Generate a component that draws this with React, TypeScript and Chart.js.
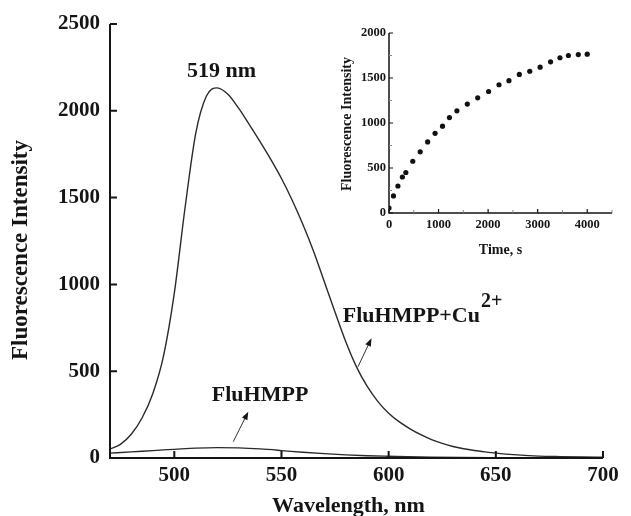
import React, { useEffect, useRef } from "react";
import { Chart, registerables } from "chart.js";

Chart.register(...registerables);

// ---------- data ----------
const wavelengthsCu = [470, 475, 480, 485, 490, 495, 500, 505, 510, 515, 520, 525, 530, 535, 540, 545, 550, 555, 560, 565, 570, 575, 580, 585, 590, 595, 600, 605, 610, 615, 620, 625, 630, 635, 640, 645, 650, 660, 670, 680, 690, 700];
const intensityCu = [52, 80, 138, 232, 372, 590, 950, 1440, 1870, 2085, 2132, 2095, 2015, 1920, 1822, 1720, 1610, 1485, 1345, 1190, 1015, 840, 670, 525, 412, 325, 258, 208, 168, 134, 106, 84, 66, 53, 43, 35, 28, 18, 11, 8, 6, 5];

const wavelengthsFree = [470, 480, 490, 500, 510, 520, 530, 540, 550, 560, 570, 580, 590, 600, 620, 650, 700];
const intensityFree = [28, 35, 43, 50, 57, 60, 58, 52, 43, 33, 25, 18, 13, 10, 5, 2, 0];

const mainXTicks = [500, 550, 600, 650, 700];
const mainYTicks = [0, 500, 1000, 1500, 2000, 2500];

const timeS = [0, 90, 180, 270, 340, 480, 630, 780, 930, 1080, 1220, 1370, 1580, 1790, 2010, 2220, 2420, 2630, 2840, 3050, 3260, 3450, 3620, 3820, 4000];
const kineticIntensity = [55, 190, 300, 400, 450, 575, 680, 790, 885, 965, 1060, 1135, 1210, 1280, 1350, 1425, 1470, 1540, 1575, 1620, 1680, 1725, 1750, 1760, 1765];

const insetXTicks = [0, 1000, 2000, 3000, 4000];
const insetXMinor = [500, 1500, 2500, 3500, 4500];
const insetYTicks = [0, 500, 1000, 1500, 2000];
const insetYMinor = [250, 750, 1250, 1750];

const SERIF = "'Liberation Serif', 'Times New Roman', Times, serif";
const INK = "#151515";

// ---------- helpers ----------
const plainLabel = (v: any) => String(v);

function axesPlugin(id: string, cfg: any) {
  return {
    id,
    afterDraw(chart: any) {
      const { ctx, chartArea: a, scales } = chart;
      const xs = scales.x;
      const ys = scales.y;
      ctx.save();
      ctx.strokeStyle = INK;
      ctx.lineWidth = cfg.axisWidth;
      ctx.beginPath();
      ctx.moveTo(a.left, a.top);
      ctx.lineTo(a.left, a.bottom);
      ctx.lineTo(a.right, a.bottom);
      ctx.stroke();
      ctx.lineWidth = cfg.tickWidth;
      ctx.beginPath();
      cfg.xMajor.forEach((v: number) => {
        const px = xs.getPixelForValue(v);
        ctx.moveTo(px, a.bottom);
        ctx.lineTo(px, a.bottom - cfg.tickLen);
      });
      cfg.yMajor.forEach((v: number) => {
        const py = ys.getPixelForValue(v);
        ctx.moveTo(a.left, py);
        ctx.lineTo(a.left + cfg.tickLen, py);
      });
      ctx.stroke();
      if (cfg.xMinor || cfg.yMinor) {
        ctx.strokeStyle = "#888";
        ctx.lineWidth = 1;
        ctx.beginPath();
        (cfg.xMinor || []).forEach((v: number) => {
          const px = xs.getPixelForValue(v);
          ctx.moveTo(px, a.bottom);
          ctx.lineTo(px, a.bottom - cfg.minorLen);
        });
        (cfg.yMinor || []).forEach((v: number) => {
          const py = ys.getPixelForValue(v);
          ctx.moveTo(a.left, py);
          ctx.lineTo(a.left + cfg.minorLen, py);
        });
        ctx.stroke();
      }
      ctx.restore();
    },
  };
}

function arrow(ctx: CanvasRenderingContext2D, x1: number, y1: number, x2: number, y2: number) {
  const ang = Math.atan2(y2 - y1, x2 - x1);
  const hl = 8;
  const hw = 3;
  ctx.beginPath();
  ctx.moveTo(x1, y1);
  ctx.lineTo(x2 - Math.cos(ang) * hl * 0.8, y2 - Math.sin(ang) * hl * 0.8);
  ctx.stroke();
  ctx.beginPath();
  ctx.moveTo(x2, y2);
  ctx.lineTo(x2 - Math.cos(ang) * hl - Math.sin(ang) * hw, y2 - Math.sin(ang) * hl + Math.cos(ang) * hw);
  ctx.lineTo(x2 - Math.cos(ang) * hl + Math.sin(ang) * hw, y2 - Math.sin(ang) * hl - Math.cos(ang) * hw);
  ctx.closePath();
  ctx.fill();
}

const mainAnnotations = {
  id: "mainAnnotations",
  afterDraw(chart: any) {
    const { ctx, scales, chartArea: a } = chart;
    const X = (v: number) => scales.x.getPixelForValue(v);
    const Y = (v: number) => scales.y.getPixelForValue(v);
    ctx.save();
    ctx.fillStyle = INK;
    ctx.strokeStyle = "#333";
    ctx.lineWidth = 1;
    ctx.font = `bold 22px ${SERIF}`;
    ctx.textBaseline = "middle";
    ctx.textAlign = "center";
    ctx.fillText("519 nm", X(522), Y(2230));
    ctx.fillText("FluHMPP", X(540), Y(363));
    ctx.textAlign = "left";
    const base = "FluHMPP+Cu";
    const bx = X(578.6);
    const by = Y(814);
    ctx.fillText(base, bx, by);
    const w = ctx.measureText(base).width;
    ctx.font = `bold 20px ${SERIF}`;
    ctx.fillText("2+", bx + w + 1, by - 15);
    arrow(ctx, X(585.7), Y(526), X(592), Y(690));
    arrow(ctx, X(527.5), Y(94), X(534.5), Y(267));
    // axis titles
    ctx.font = `bold 22px ${SERIF}`;
    ctx.textAlign = "center";
    ctx.fillText("Wavelength, nm", (a.left + a.right) / 2 - 8, 506);
    ctx.translate(21, 250);
    ctx.rotate(-Math.PI / 2);
    ctx.font = `bold 23px ${SERIF}`;
    ctx.fillText("Fluorescence Intensity", 0, 0);
    ctx.restore();
  },
};

const insetTitles = {
  id: "insetTitles",
  afterDraw(chart: any) {
    const { ctx, chartArea: a } = chart;
    ctx.save();
    ctx.fillStyle = INK;
    ctx.font = `bold 14px ${SERIF}`;
    ctx.textAlign = "center";
    ctx.textBaseline = "middle";
    ctx.fillText("Time, s", (a.left + a.right) / 2, a.bottom + 37);
    ctx.translate(12, 124 - 20);
    ctx.rotate(-Math.PI / 2);
    ctx.fillText("Fluorescence Intensity", 0, 0);
    ctx.restore();
  },
};

export default function App() {
  const mainRef = useRef<HTMLCanvasElement>(null);
  const insetRef = useRef<HTMLCanvasElement>(null);

  useEffect(() => {
    const tickFontMain = { family: SERIF, size: 21, weight: "bold" as const };
    const mainChart = new Chart(mainRef.current as HTMLCanvasElement, {
      type: "line",
      data: {
        datasets: [
          {
            data: wavelengthsCu.map((x, i) => ({ x, y: intensityCu[i] })),
            borderColor: "#2a2a2a",
            borderWidth: 1.4,
            pointRadius: 0,
            cubicInterpolationMode: "monotone",
            fill: false,
          },
          {
            data: wavelengthsFree.map((x, i) => ({ x, y: intensityFree[i] })),
            borderColor: "#2a2a2a",
            borderWidth: 1.3,
            pointRadius: 0,
            cubicInterpolationMode: "monotone",
            fill: false,
          },
        ],
      },
      options: {
        animation: false,
        responsive: false,
        layout: { padding: { left: 0, right: 28, top: 24, bottom: 0 } },
        plugins: { legend: { display: false }, tooltip: { enabled: false } },
        scales: {
          x: {
            type: "linear",
            min: 470,
            max: 700,
            grid: { display: false, drawTicks: false },
            border: { display: false },
            afterBuildTicks: (s: any) => {
              s.ticks = mainXTicks.map((v) => ({ value: v }));
            },
            afterFit: (s: any) => {
              s.height = 58;
            },
            ticks: { font: tickFontMain, color: INK, padding: 5, maxRotation: 0, autoSkip: false, callback: plainLabel },
          },
          y: {
            type: "linear",
            min: 0,
            max: 2500,
            grid: { display: false, drawTicks: false },
            border: { display: false },
            afterBuildTicks: (s: any) => {
              s.ticks = mainYTicks.map((v) => ({ value: v }));
            },
            afterFit: (s: any) => {
              s.width = 110;
            },
            ticks: { font: tickFontMain, color: INK, padding: 10, callback: plainLabel },
          },
        },
      },
      plugins: [
        axesPlugin("mainAxes", { axisWidth: 2, tickWidth: 2, tickLen: 7, xMajor: mainXTicks, yMajor: mainYTicks }),
        mainAnnotations,
      ],
    } as any);

    const tickFontInset = { family: SERIF, size: 12.5, weight: "bold" as const };
    const insetChart = new Chart(insetRef.current as HTMLCanvasElement, {
      type: "scatter",
      data: {
        datasets: [
          {
            data: timeS.map((x, i) => ({ x, y: kineticIntensity[i] })),
            backgroundColor: "#111",
            borderColor: "#111",
            pointRadius: 2.6,
            pointBorderWidth: 0,
          },
        ],
      },
      options: {
        animation: false,
        responsive: false,
        layout: { padding: { left: 0, right: 19, top: 13, bottom: 0 } },
        plugins: { legend: { display: false }, tooltip: { enabled: false } },
        scales: {
          x: {
            type: "linear",
            min: 0,
            max: 4500,
            grid: { display: false, drawTicks: false },
            border: { display: false },
            afterBuildTicks: (s: any) => {
              s.ticks = insetXTicks.map((v) => ({ value: v }));
            },
            afterFit: (s: any) => {
              s.height = 49;
            },
            ticks: { font: tickFontInset, color: INK, padding: 4, maxRotation: 0, autoSkip: false, callback: plainLabel },
          },
          y: {
            type: "linear",
            min: 0,
            max: 2000,
            grid: { display: false, drawTicks: false },
            border: { display: false },
            afterBuildTicks: (s: any) => {
              s.ticks = insetYTicks.map((v) => ({ value: v }));
            },
            afterFit: (s: any) => {
              s.width = 54;
            },
            ticks: { font: tickFontInset, color: INK, padding: 3, callback: plainLabel },
          },
        },
      },
      plugins: [
        axesPlugin("insetAxes", {
          axisWidth: 1.5,
          tickWidth: 1.2,
          tickLen: 4,
          minorLen: 3,
          xMajor: insetXTicks,
          yMajor: insetYTicks,
          xMinor: insetXMinor,
          yMinor: insetYMinor,
        }),
        insetTitles,
      ],
    } as any);

    return () => {
      mainChart.destroy();
      insetChart.destroy();
    };
  }, []);

  return (
    <div style={{ position: "fixed", left: 0, top: 0, width: 631, height: 516, background: "#fff" }}>
      <canvas ref={mainRef} width={631} height={516} style={{ position: "absolute", left: 0, top: 0, width: 631, height: 516 }} />
      <canvas ref={insetRef} width={296} height={242} style={{ position: "absolute", left: 335, top: 20, width: 296, height: 242 }} />
    </div>
  );
}
